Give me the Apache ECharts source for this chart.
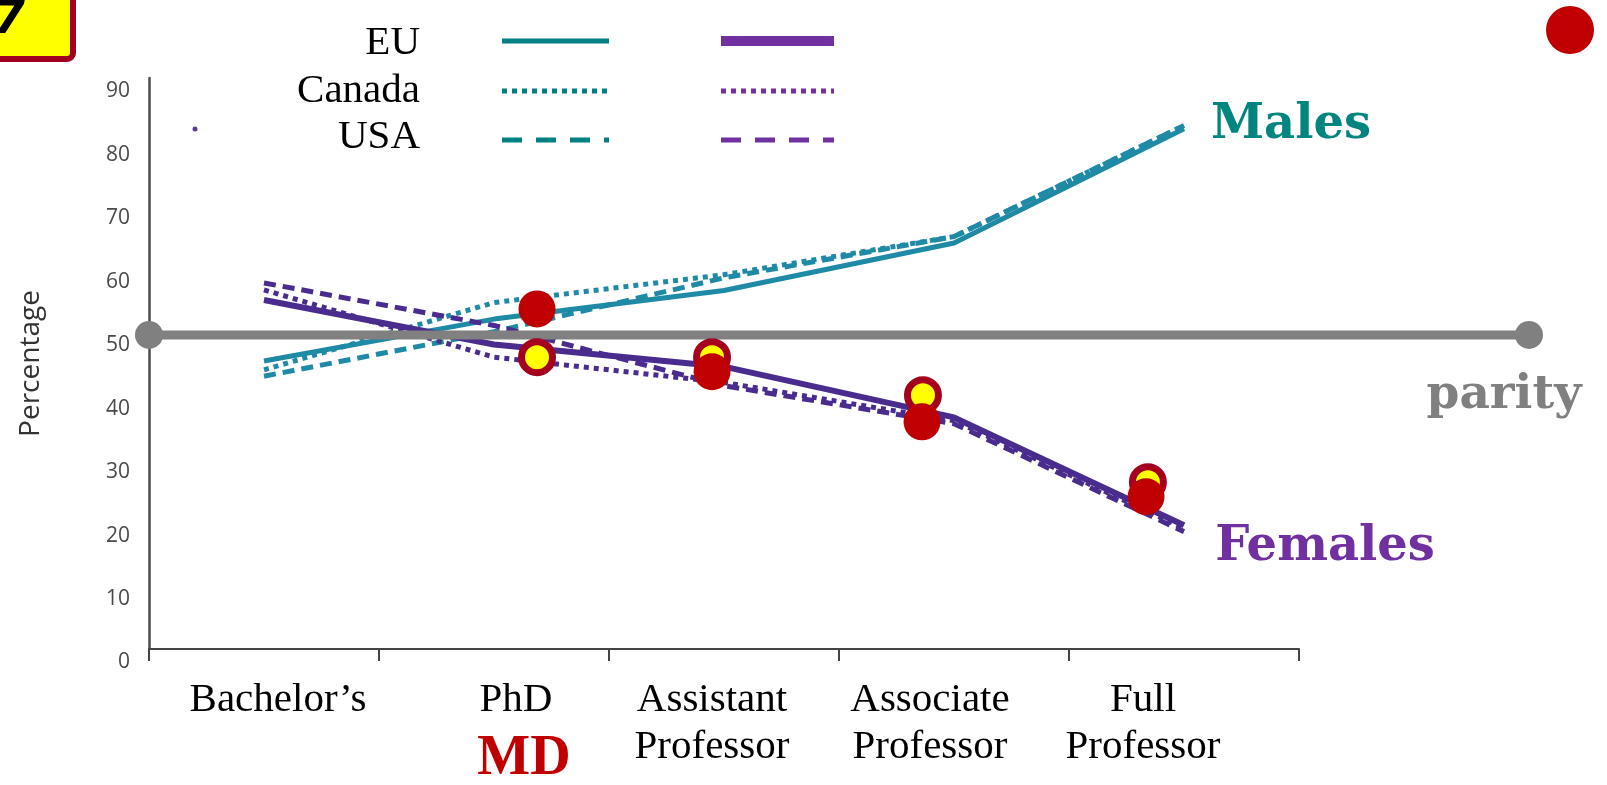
<!DOCTYPE html>
<html><head><meta charset="utf-8">
<script src="https://cdn.jsdelivr.net/npm/echarts@6/dist/echarts.min.js"></script>
<style>html,body{margin:0;padding:0;background:#fff;}#c{width:1607px;height:785px;}</style>
</head><body><div id="c"></div>
<script>
// ---- data ----
const categories = ['Bachelor’s', 'PhD', 'Assistant\nProfessor', 'Associate\nProfessor', 'Full\nProfessor'];
const yMin = 0, yMax = 90, yStep = 10;
const malesEU     = [45.4, 52.0, 56.5, 64.0, 82.0];
const malesCanada = [44.0, 54.6, 59.0, 65.0, 82.5];
const malesUSA    = [43.0, 50.0, 58.5, 65.0, 82.5];
const femalesEU     = [55.0, 48.0, 44.5, 36.5, 19.5];
const femalesCanada = [56.6, 46.0, 42.0, 36.0, 19.0];
const femalesUSA    = [57.7, 51.0, 41.5, 35.5, 18.5];
const parityValue = 49.5;
const parityX = [0, 6];
// MD overlay markers (x in category-band units, y in percent)
const ringX = [1.687, 2.448, 3.365, 4.343];
const ringY = [46.0, 46.0, 40.0, 26.3];
const dotX  = [1.687, 2.448, 3.361, 4.335];
const dotY  = [53.6, 43.7, 35.8, 24.0];
const legendNames = ['EU', 'Canada', 'USA'];

// ---- styles ----
const TEAL = '#1f8aa5', PURPLE = '#4a2c8f';
const LEG_TEAL = '#008080', LEG_PURPLE = '#7030a0';
const DASH = [12, 7], DOT = [5, 5];
const labelShift = [14, 22, -12, -24, -41];
const serif = "'Liberation Serif', 'Times New Roman', serif";
const BAND = 230, GRID_L = 149, GRID_T = 78, GRID_H = 571;

const rich = {};
labelShift.forEach((s, i) => {
  rich['s' + i] = {
    fontFamily: serif, fontSize: 41, color: '#000', lineHeight: 47,
    padding: s >= 0 ? [0, 0, 0, 2 * s] : [0, -2 * s, 0, 0]
  };
});
rich.md = { fontFamily: serif, fontWeight: 'bold', fontSize: 56, color: '#c00000', lineHeight: 72, padding: [0, 0, 0, 60] };

function lineSeries(name, data, color, width, dash) {
  return {
    name, type: 'line', xAxisIndex: 0, yAxisIndex: 0, data, symbol: 'none', z: 2,
    lineStyle: { color, width, type: dash || 'solid', cap: 'butt' }, silent: true
  };
}

const chart = echarts.init(document.getElementById('c'));
const legendGraphics = [];
const legendY = [41, 91, 140];
const legendTextY = [43, 91, 137];
legendNames.forEach((n, i) => {
  legendGraphics.push({ type: 'text', x: 420, y: legendTextY[i], style: { text: n, fill: '#000', font: '41px ' + serif, textAlign: 'right', textVerticalAlign: 'middle' } });
  const dash = i === 0 ? null : (i === 1 ? [5, 5] : [20, 14]);
  legendGraphics.push({ type: 'line', shape: { x1: 502, y1: legendY[i], x2: 609, y2: legendY[i] }, style: { stroke: LEG_TEAL, lineWidth: 5, lineDash: dash } });
  legendGraphics.push({ type: 'line', shape: { x1: 721, y1: legendY[i], x2: 834, y2: legendY[i] }, style: { stroke: LEG_PURPLE, lineWidth: i === 0 ? 10 : 5, lineDash: dash } });
});

chart.setOption({
  animation: false,
  backgroundColor: '#fff',
  grid: [
    { left: GRID_L, top: GRID_T, width: BAND * categories.length, height: GRID_H, containLabel: false, outerBoundsMode: 'none' },
    { left: GRID_L, top: GRID_T, width: BAND * parityX[1], height: GRID_H, containLabel: false, outerBoundsMode: 'none' }
  ],
  xAxis: [{
    type: 'category', gridIndex: 0, data: categories, boundaryGap: true,
    axisLine: { show: true, lineStyle: { color: '#444', width: 2 } },
    axisTick: { show: true, length: 12, alignWithLabel: false, lineStyle: { color: '#444', width: 2 } },
    splitLine: { show: false },
    axisLabel: {
      interval: 0, margin: 28,
      formatter: (v, idx) => v.split('\n').map(l => '{s' + idx + '|' + l + '}').join('\n') + (idx === 1 ? '\n{md|MD}' : ''),
      rich
    }
  }, {
    type: 'value', gridIndex: 1, min: parityX[0], max: parityX[1], show: false
  }],
  yAxis: [{
    type: 'value', gridIndex: 0, min: yMin, max: yMax, interval: yStep,
    axisLine: { show: true, lineStyle: { color: '#4d4d4d', width: 2.5 } },
    axisTick: { show: false }, splitLine: { show: false },
    axisLabel: { color: '#4a4a4a', fontFamily: "'Open Sans', sans-serif", fontSize: 21, margin: 19, verticalAlign: 'top', lineHeight: 27 },
    name: 'Percentage', nameLocation: 'middle', nameRotate: 90, nameGap: 104,
    nameTextStyle: { fontFamily: "'Open Sans', sans-serif", fontSize: 28, color: '#333' }
  }, {
    type: 'value', gridIndex: 1, min: yMin, max: yMax, show: false
  }],
  series: [
    lineSeries('EU males', malesEU, TEAL, 5),
    lineSeries('Canada males', malesCanada, TEAL, 5, DOT),
    lineSeries('USA males', malesUSA, TEAL, 5, DASH),
    lineSeries('EU females', femalesEU, PURPLE, 6),
    lineSeries('Canada females', femalesCanada, PURPLE, 5, DOT),
    lineSeries('USA females', femalesUSA, PURPLE, 5, DASH),
    {
      name: 'parity', type: 'line', xAxisIndex: 1, yAxisIndex: 1, clip: false, z: 3, silent: true,
      data: parityX.map(x => [x, parityValue]),
      symbol: 'circle', symbolSize: 28, itemStyle: { color: '#808080' },
      lineStyle: { color: '#808080', width: 9 }
    },
    {
      name: 'MD ring', type: 'scatter', xAxisIndex: 1, yAxisIndex: 1, z: 4, silent: true,
      data: ringX.map((x, i) => [x, ringY[i]]),
      symbol: 'circle', symbolSize: 31,
      itemStyle: { color: '#ffff00', borderColor: '#a5001e', borderWidth: 7, opacity: 1 }
    },
    {
      name: 'MD dot', type: 'scatter', xAxisIndex: 1, yAxisIndex: 1, z: 5, silent: true,
      data: dotX.map((x, i) => [x, dotY[i]]),
      symbol: 'circle', symbolSize: 37,
      itemStyle: { color: '#c00000', opacity: 1 }
    }
  ],
  graphic: [
    { type: 'rect', shape: { x: -10, y: -10, width: 83, height: 69, r: 6 }, style: { fill: '#ffff00', stroke: '#a0001e', lineWidth: 6 }, z: 10 },
    { type: 'text', x: -7, y: 21, style: { text: '7', fill: '#000', font: "italic 900 46px 'DejaVu Sans', 'Liberation Sans', sans-serif", textAlign: 'left', textVerticalAlign: 'middle' }, z: 11 },
    { type: 'circle', shape: { cx: 1570, cy: 30, r: 24 }, style: { fill: '#c00000' } },
    { type: 'circle', shape: { cx: 195, cy: 129, r: 2.5 }, style: { fill: '#5a3a9a' } },
    { type: 'text', x: 1291, y: 126, style: { text: 'Males', fill: '#00857f', font: "bold 48px 'DejaVu Serif', serif", textAlign: 'center', textVerticalAlign: 'middle' } },
    { type: 'text', x: 1325, y: 548, style: { text: 'Females', fill: LEG_PURPLE, font: "bold 48px 'DejaVu Serif', serif", textAlign: 'center', textVerticalAlign: 'middle' } },
    { type: 'text', x: 1504, y: 396, style: { text: 'parity', fill: '#808080', font: "bold 47px 'DejaVu Serif', serif", textAlign: 'center', textVerticalAlign: 'middle' } },
    ...legendGraphics
  ]
});
</script></body></html>
